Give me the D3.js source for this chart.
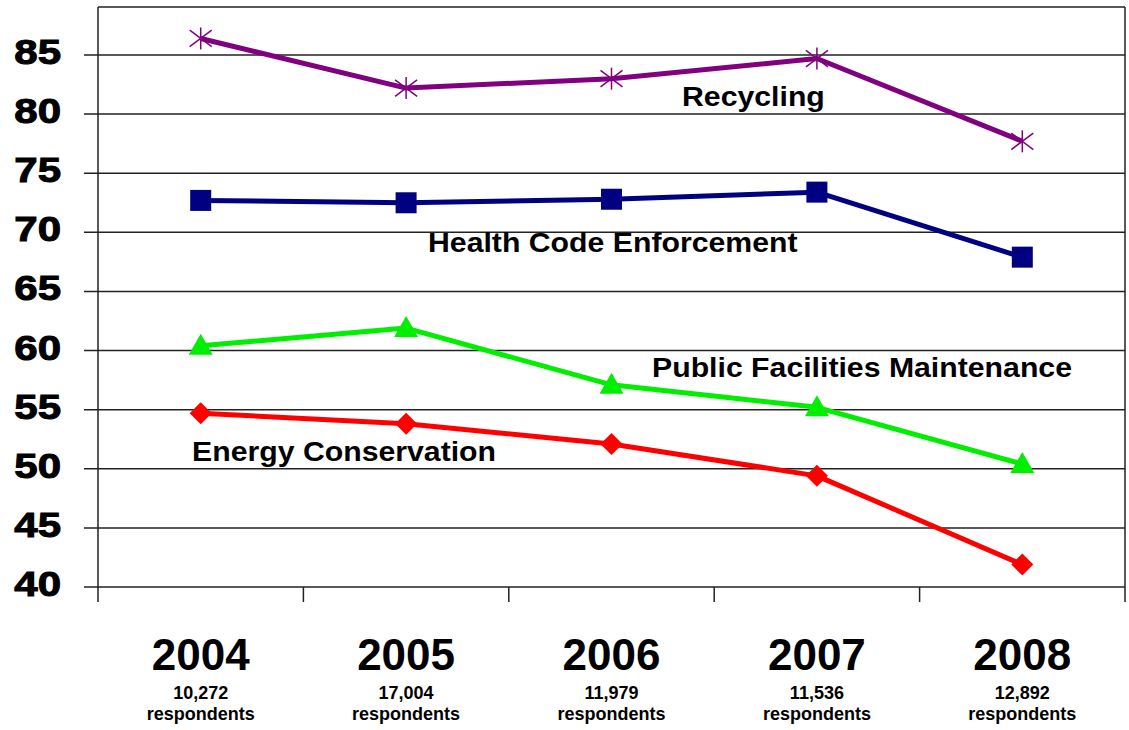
<!DOCTYPE html>
<html>
<head>
<meta charset="utf-8">
<script src="https://cdn.jsdelivr.net/npm/d3@7"></script>
<style>
  html, body { margin: 0; padding: 0; background: #fff; }
  svg { display: block; }
  text { font-family: "Liberation Sans", Arial, sans-serif; font-weight: bold; fill: #000; }
</style>
</head>
<body>
<svg id="chart" width="1129" height="730"></svg>
<script>
// Survey years and respondent counts
const years = ["2004", "2005", "2006", "2007", "2008"];
const respondents = ["10,272", "17,004", "11,979", "11,536", "12,892"];
const yTicks = [40, 45, 50, 55, 60, 65, 70, 75, 80, 85];

// Percent rating each service favourably, by year
const recycling = [86.4, 82.2, 83.0, 84.7, 77.7];
const healthCode = [72.7, 72.5, 72.8, 73.4, 67.9];
const publicFacilities = [60.4, 61.9, 57.1, 55.2, 50.4];
const energyConservation = [54.7, 53.8, 52.1, 49.4, 41.9];

const seriesNames = ["Recycling", "Health Code Enforcement", "Public Facilities Maintenance", "Energy Conservation"];
const seriesValues = [recycling, healthCode, publicFacilities, energyConservation];

// Styling and label placement
const seriesColors = ["#800080", "#000080", "#00ee00", "#ff0000"];
const seriesMarkers = ["star", "square", "triangle", "diamond"];
const labelPos = [[682, 106], [428, 252], [652, 377], [192, 461]];

const svg = d3.select("#chart");
const plot = { left: 98, right: 1125, top: 7, bottom: 587, tickDrop: 15 };

const x = d3.scaleBand().domain(years).range([plot.left, plot.right]);
const y = d3.scaleLinear().domain([40, 85]).range([587, 55]);
const cx = d => x(d) + x.bandwidth() / 2;

// Horizontal gridlines (extend left of the axis as tick marks)
svg.append("g").selectAll("line").data(yTicks).join("line")
  .attr("x1", plot.left - 14).attr("x2", plot.right)
  .attr("y1", d => y(d)).attr("y2", d => y(d))
  .attr("stroke", "#222").attr("stroke-width", 1.5);

// Frame: top border, left axis and right border
svg.append("line").attr("x1", plot.left).attr("x2", plot.right)
  .attr("y1", plot.top).attr("y2", plot.top).attr("stroke", "#222").attr("stroke-width", 1.5);
svg.append("line").attr("x1", plot.left).attr("x2", plot.left)
  .attr("y1", plot.top).attr("y2", plot.bottom + plot.tickDrop).attr("stroke", "#222").attr("stroke-width", 1.5);
svg.append("line").attr("x1", plot.right).attr("x2", plot.right)
  .attr("y1", plot.top).attr("y2", plot.bottom + plot.tickDrop).attr("stroke", "#222").attr("stroke-width", 1.5);

// Category dividers below the baseline
svg.append("g").selectAll("line").data(years.slice(1)).join("line")
  .attr("x1", d => x(d)).attr("x2", d => x(d))
  .attr("y1", plot.bottom).attr("y2", plot.bottom + plot.tickDrop)
  .attr("stroke", "#222").attr("stroke-width", 1.5);

// Y tick labels (heavy, slightly widened)
svg.append("g").selectAll("text").data(yTicks).join("text")
  .attr("transform", d => `translate(61,${y(d) + 9}) scale(1.2,1)`)
  .attr("text-anchor", "end")
  .attr("font-size", 35)
  .attr("stroke", "#000").attr("stroke-width", 1)
  .text(d => d);

// Year labels and respondent counts
const cat = svg.append("g").selectAll("g").data(years).join("g");
cat.append("text")
  .attr("x", d => cx(d)).attr("y", 670)
  .attr("text-anchor", "middle").attr("font-size", 44)
  .text(d => d);
cat.append("text")
  .attr("x", d => cx(d)).attr("y", 699)
  .attr("text-anchor", "middle").attr("font-size", 18)
  .text((d, i) => respondents[i]);
cat.append("text")
  .attr("x", d => cx(d)).attr("y", 720)
  .attr("text-anchor", "middle").attr("font-size", 18)
  .text("respondents");

// Series lines and markers
const line = d3.line().x((d, i) => cx(years[i])).y(d => y(d));

seriesValues.forEach((vals, s) => {
  const color = seriesColors[s];
  const g = svg.append("g");
  g.append("path").datum(vals)
    .attr("d", line).attr("fill", "none")
    .attr("stroke", color).attr("stroke-width", 5).attr("stroke-linejoin", "round");

  const pts = g.selectAll("g.m").data(vals).join("g")
    .attr("class", "m")
    .attr("transform", (d, i) => `translate(${cx(years[i])},${y(d)})`);

  const kind = seriesMarkers[s];
  if (kind === "star") {
    const r = 11;
    const arms = [[0, -r, 0, r], [-r, -r * 0.75, r, r * 0.75], [-r, r * 0.75, r, -r * 0.75]];
    arms.forEach(a => {
      pts.append("line").attr("x1", a[0]).attr("y1", a[1]).attr("x2", a[2]).attr("y2", a[3])
        .attr("stroke", color).attr("stroke-width", 1.5);
    });
  } else if (kind === "square") {
    pts.append("rect").attr("x", -10.5).attr("y", -10.5).attr("width", 21).attr("height", 21)
      .attr("fill", color);
  } else if (kind === "triangle") {
    pts.append("path").attr("d", "M0,-12L12,9L-12,9Z").attr("fill", color);
  } else {
    pts.append("path").attr("d", "M0,-11L11,0L0,11L-11,0Z").attr("fill", color);
  }
});

// Series labels
svg.append("g").selectAll("text").data(seriesNames).join("text")
  .attr("transform", (d, i) => `translate(${labelPos[i][0]},${labelPos[i][1]}) scale(1.12,1)`)
  .attr("font-size", 27)
  .text(d => d);
</script>
</body>
</html>
